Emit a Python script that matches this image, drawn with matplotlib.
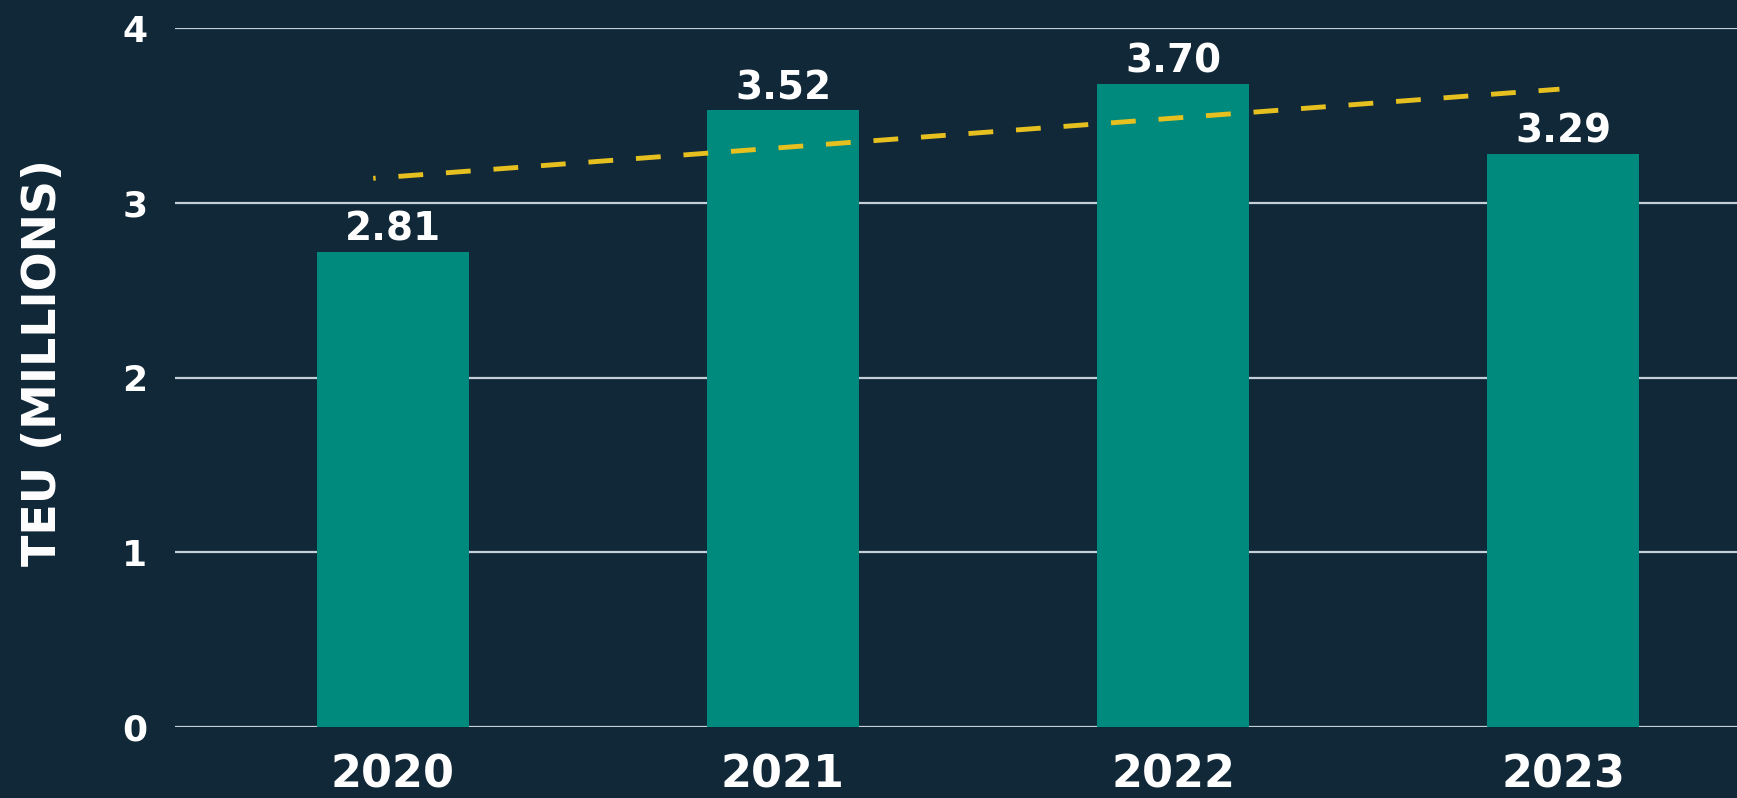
import matplotlib
matplotlib.use("Agg")
from matplotlib import pyplot as plt

years = ["2020", "2021", "2022", "2023"]
# bar heights as drawn in the picture, labels as printed on it
bar_heights = [2.72, 3.53, 3.68, 3.28]
bar_labels = ["2.81", "3.52", "3.70", "3.29"]
# dashed trend line end points (category index, TEU millions)
trend_x = [-0.05, 2.99]
trend_y = [3.14, 3.65]
y_ticks = [0, 1, 2, 3, 4]

bg = "#112838"
teal = "#00897d"
yellow = "#e6c01f"
grid_col = "#c5cfd8"

plt.rcParams['font.family'] = ['DejaVu Sans']
plt.rcParams['font.weight'] = 'bold'

fig = plt.figure(figsize=(17.37, 7.98), dpi=100)
fig.patch.set_facecolor(bg)
ax = fig.add_axes([175/1737, 71/798, 1 - 175/1737, 699/798])
ax.set_facecolor(bg)

x = list(range(len(years)))
bars = ax.bar(x, bar_heights, width=0.39, color=teal, zorder=2)
for b, lab in zip(bars, bar_labels):
    ax.annotate(lab, (b.get_x() + b.get_width()/2, b.get_height()),
                xytext=(0, 8), textcoords="offset points",
                ha="center", va="baseline", color="white",
                fontsize=28, fontweight="bold", zorder=4)

ax.plot(trend_x, trend_y, color=yellow, lw=3.5,
        linestyle=(4.6, (5.1, 4.7)), zorder=3)

ax.set_xlim(-0.558, 3.445)
ax.set_ylim(0, 4)
ax.set_yticks(y_ticks)
ax.set_xticks(x)
ax.set_xticklabels(years)
ax.yaxis.grid(True, color=grid_col, lw=1.6, zorder=1)
ax.set_axisbelow(True)
ax.tick_params(axis="y", length=0, pad=20, labelsize=26, labelcolor="white")
ax.tick_params(axis="x", length=0, pad=19, labelsize=32, labelcolor="white")
for s in ax.spines.values():
    s.set_visible(False)

fig.text(44/1737, 1 - 363/798, "TEU (MILLIONS)", rotation=90,
         ha="center", va="center", color="white", fontsize=33, fontweight="bold")

fig.savefig("out.png", dpi=100, facecolor=bg)
